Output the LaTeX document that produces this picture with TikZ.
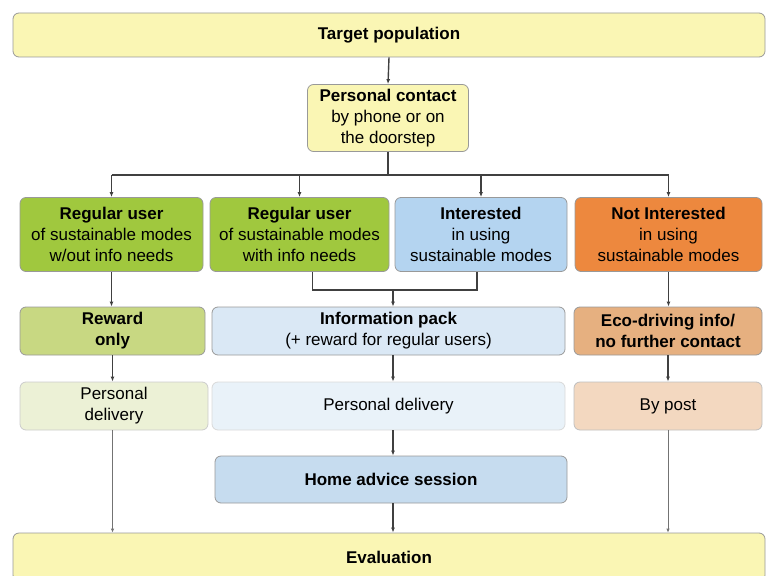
\documentclass[tikz,border=0pt]{standalone}
\usepackage{fontspec}
\setmainfont{Liberation Sans}
\usetikzlibrary{arrows.meta, positioning, calc}
\definecolor{paleyellow}{RGB}{250,246,180}
\definecolor{limegreen}{RGB}{160,200,62}
\definecolor{skyblue}{RGB}{180,212,240}
\definecolor{carrot}{RGB}{237,136,62}
\definecolor{olivegreen}{RGB}{200,216,130}
\definecolor{iceblue}{RGB}{218,232,245}
\definecolor{tan}{RGB}{230,176,128}
\definecolor{palegreen}{RGB}{236,241,214}
\definecolor{paleblue}{RGB}{233,242,249}
\definecolor{paletan}{RGB}{243,216,192}
\definecolor{steelblue}{RGB}{198,220,239}

\begin{document}
\begin{tikzpicture}[x=1pt, y=-1pt,
    box/.style={draw=black!40, line width=0.8pt, rounded corners=6pt, align=center, inner sep=0pt,
      font=\fontsize{17}{21}\selectfont},
    line/.style={line width=1.4pt, draw=black!75},
    link/.style={line, -{Latex[length=5pt,width=4pt]}},
    thinlink/.style={line width=0.8pt, draw=black!55, -{Latex[length=4pt,width=3.5pt]}}]
  \useasboundingbox (0,0) rectangle (767,575);

  % Top
  \node[box, fill=paleyellow, minimum width=752pt, minimum height=44pt] (target) at (389,35)
    {\textbf{Target population}};
  \node[box, fill=paleyellow, minimum width=161pt, minimum height=67pt] (contact) at (388,118)
    {\textbf{Personal contact}\\by phone or on\\the doorstep};

  % Groups
  \node[box, fill=limegreen, minimum width=183pt, minimum height=74pt] (ru1) at (111.5,234.5)
    {\textbf{Regular user}\\of sustainable modes\\w/out info needs};
  \node[box, fill=limegreen, minimum width=179pt, minimum height=74pt] (ru2) at (299.5,234.5)
    {\textbf{Regular user}\\of sustainable modes\\with info needs};
  \node[box, fill=skyblue, minimum width=172pt, minimum height=74pt] (int) at (481,234.5)
    {\textbf{Interested}\\in using\\sustainable modes};
  \node[box, fill=carrot, minimum width=187pt, minimum height=74pt] (nint) at (668.5,234.5)
    {\textbf{Not Interested}\\in using\\sustainable modes};

  % Offers
  \node[box, fill=olivegreen, minimum width=185pt, minimum height=48pt] (reward) at (112.5,331)
    {\textbf{Reward}\\\textbf{only}};
  \node[box, fill=iceblue, minimum width=353pt, minimum height=48pt] (info) at (388.5,331)
    {\textbf{Information pack}\\(+ reward for regular users)};
  \node[box, fill=tan, minimum width=188pt, minimum height=48pt] (eco) at (668,331)
    {\textbf{Eco-driving info/}\\\textbf{no further contact}};

  % Delivery
  \node[box, fill=palegreen, draw=black!20, minimum width=188pt, minimum height=48pt] (dlv1) at (114,406)
    {Personal\\delivery};
  \node[box, fill=paleblue, draw=black!15, minimum width=353pt, minimum height=48pt] (dlv2) at (388.5,406)
    {Personal delivery};
  \node[box, fill=paletan, draw=black!25, minimum width=188pt, minimum height=48pt] (post) at (668,406)
    {By post};
  \node[box, fill=steelblue, minimum width=352pt, minimum height=47pt] (home) at (391,479.5)
    {\textbf{Home advice session}};

  % Bottom
  \node[box, fill=paleyellow, minimum width=752pt, minimum height=48pt] (eval) at (389,557)
    {\textbf{Evaluation}};

  % Connectors
  \coordinate (split) at (388,175);
  \coordinate (merge) at (393,290);
  \draw[link] (target.south) -- (contact.north);
  \draw[line] (contact.south) -- (split);
  \draw[line] (split -| ru1.north) -- (split -| nint.north);
  \foreach \n in {ru1, ru2, int, nint}
    \draw[link] (split -| \n.north) -- (\n.north);
  \draw[line] ($(ru2.south)+(13,0)$) |- (merge) -| ($(int.south)+(-4,0)$);
  \draw[link] (merge) -- (merge |- info.north);
  \draw[link] (ru1.south) -- (ru1.south |- reward.north);
  \draw[link] (nint.south) -- (nint.south |- eco.north);
  \draw[link] (reward.south) -- (reward.south |- dlv1.north);
  \draw[link] (merge |- info.south) -- (merge |- dlv2.north);
  \draw[link] (eco.south) -- (eco.south |- post.north);
  \draw[link] (merge |- dlv2.south) -- (merge |- home.north);
  \draw[link] (merge |- home.south) -- (merge |- eval.north);
  \draw[thinlink] (reward.south |- dlv1.south) -- (reward.south |- eval.north);
  \draw[thinlink] (eco.south |- post.south) -- (eco.south |- eval.north);
\end{tikzpicture}
\end{document}
